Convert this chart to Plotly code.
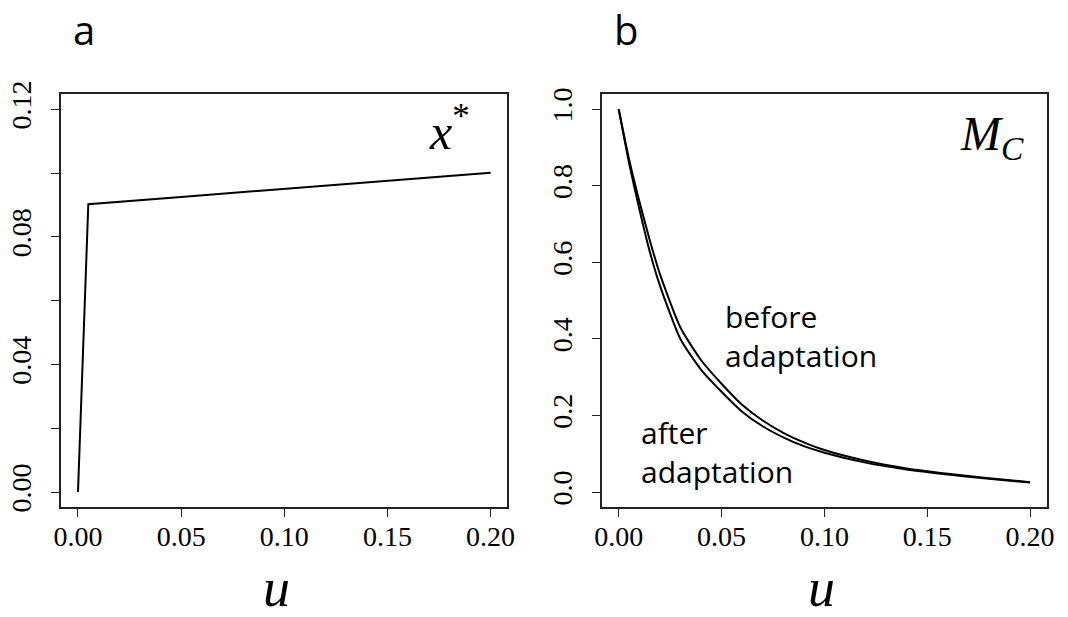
import plotly.graph_objects as go

# ---- data ----
u_left = [0.0, 0.005, 0.05, 0.10, 0.15, 0.20]
x_star = [0.0, 0.0902, 0.0925, 0.0950, 0.0975, 0.1001]

u_right = [0.0, 0.005, 0.01, 0.015, 0.02, 0.03, 0.04, 0.05, 0.06, 0.07, 0.08,
           0.09, 0.10, 0.12, 0.14, 0.16, 0.18, 0.20]
mc_after = [1.0, 0.86, 0.74, 0.63, 0.54, 0.40, 0.32, 0.262, 0.21, 0.172, 0.143,
            0.12, 0.103, 0.077, 0.059, 0.046, 0.035, 0.025]
mc_before = [1.0, 0.87, 0.76, 0.66, 0.57, 0.43, 0.345, 0.283, 0.228, 0.187, 0.155,
             0.13, 0.11, 0.082, 0.062, 0.048, 0.036, 0.026]

x_ticks = [0.0, 0.05, 0.10, 0.15, 0.20]
x_ticktext = ["0.00", "0.05", "0.10", "0.15", "0.20"]
yl_ticks = [0.0, 0.04, 0.08, 0.12]
yl_ticktext = ["0.00", "0.04", "0.08", "0.12"]
yl_minor = [0.02, 0.06, 0.10]
yr_ticks = [0.0, 0.2, 0.4, 0.6, 0.8, 1.0]
yr_ticktext = ["0.0", "0.2", "0.4", "0.6", "0.8", "1.0"]

W, H = 1068, 617


def px(x):
    return x / W


def py(y):
    return 1 - y / H


fig = go.Figure()
line = dict(color="black", width=2, shape="spline", smoothing=0.6)
fig.add_trace(go.Scatter(x=u_left, y=x_star, mode="lines",
                         line=dict(color="black", width=2), xaxis="x", yaxis="y"))
fig.add_trace(go.Scatter(x=u_right, y=mc_before, mode="lines",
                         line=line, xaxis="x2", yaxis="y2"))
fig.add_trace(go.Scatter(x=u_right, y=mc_after, mode="lines",
                         line=line, xaxis="x2", yaxis="y2"))

tickfont = dict(family="Liberation Serif", size=28, color="black")
axcol = "#222"
common_x = dict(range=[-0.008, 0.208], tickvals=x_ticks, ticktext=x_ticktext,
                showgrid=False, zeroline=False, showline=True, mirror=True,
                linecolor=axcol, linewidth=2, ticks="outside", ticklen=8,
                tickwidth=1.3, tickcolor=axcol, tickfont=tickfont,
                ticklabelstandoff=-5)
common_y = dict(showgrid=False, zeroline=False, showline=True, mirror=True,
                linecolor=axcol, linewidth=2, ticks="outside", ticklen=8,
                tickwidth=1.3, tickcolor=axcol, tickfont=tickfont, tickangle=-90,
                ticklabelstandoff=9)

ydom = [py(509.3), py(83.3)]
fig.update_layout(
    width=W, height=H, margin=dict(l=0, r=0, t=0, b=0),
    paper_bgcolor="white", plot_bgcolor="white", showlegend=False,
    xaxis=dict(domain=[px(54.3), px(506.7)], anchor="y", **common_x),
    yaxis=dict(domain=ydom, anchor="x", range=[-0.0048, 0.1248],
               tickvals=yl_ticks, ticktext=yl_ticktext,
               minor=dict(tickvals=yl_minor, ticks="outside", ticklen=8,
                          tickwidth=1.3, tickcolor=axcol, showgrid=False),
               **common_y),
    xaxis2=dict(domain=[px(603.3), px(1054.3)], anchor="y2", **common_x),
    yaxis2=dict(domain=ydom, anchor="x2", range=[-0.04, 1.04],
                tickvals=yr_ticks, ticktext=yr_ticktext, **common_y),
)

sans = "Open Sans"
ann = []


def add(text, x, y, size, family, xanchor="center", yanchor="middle", align="center"):
    ann.append(dict(text=text, x=px(x), y=py(y), xref="paper", yref="paper",
                    xanchor=xanchor, yanchor=yanchor, showarrow=False, align=align,
                    font=dict(family=family, size=size, color="black")))


add("a", 77, 17, 40, sans)
add("b", 627, 17, 40, sans)
add("<i>x</i><sup>*</sup>", 448, 119, 50, "Liberation Serif")
add("<i>M</i><sub><i>C</i></sub>", 999, 128, 48, "Liberation Serif")
add("before<br>adaptation", 726, 333, 30, sans, xanchor="left", align="left")
add("after<br>adaptation", 641, 452, 30, sans, xanchor="left", align="left")
add("<i>u</i>", 273, 592, 54, "Liberation Serif")
add("<i>u</i>", 826, 592, 54, "Liberation Serif")
fig.update_layout(annotations=ann)

fig.write_html("out.html")
